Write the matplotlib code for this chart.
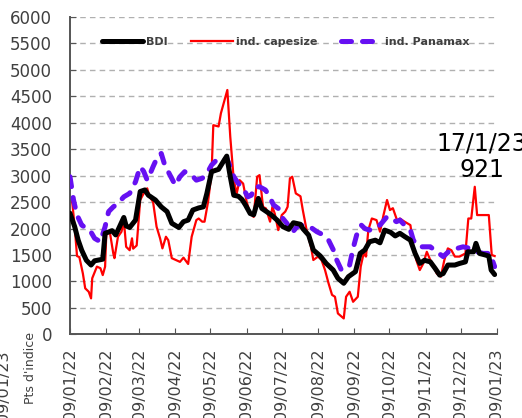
import numpy as np
import matplotlib.pyplot as plt
import matplotlib.dates as mdates

# -----------------------------
# data, x = days after 09/01/2022
# -----------------------------
start = np.datetime64("2022-01-09")

bdi_days = [0, 4, 7, 10, 14, 18, 21, 28, 30, 36, 39, 41, 46, 48, 51, 56, 60, 64, 67,
            73, 78, 83, 87, 93, 97, 101, 105, 110, 114, 117, 121, 127, 131, 134, 137,
            140, 144, 147, 150, 154, 157, 161, 164, 168, 172, 177, 182, 187, 191, 197,
            199, 204, 208, 214, 219, 225, 229, 234, 238, 244, 248, 252, 256, 261, 265,
            269, 274, 278, 282, 286, 291, 295, 299, 303, 308, 312, 316, 319, 323, 329,
            333, 338, 340, 345, 347, 350, 355, 358, 360, 363]
bdi = [2290, 2035, 1780, 1590, 1400, 1310, 1390, 1420, 1910, 1960, 1880, 1970, 2210,
       2050, 2020, 2160, 2700, 2730, 2630, 2540, 2410, 2320, 2100, 2020, 2130, 2160,
       2350, 2390, 2410, 2665, 3075, 3120, 3265, 3370, 2980, 2630, 2610, 2550, 2445,
       2285, 2260, 2570, 2380, 2320, 2260, 2160, 2035, 1985, 2110, 2080, 2000, 1875,
       1595, 1480, 1340, 1215, 1060, 965, 1090, 1185, 1530, 1595, 1750, 1780, 1730,
       1970, 1930, 1860, 1910, 1850, 1780, 1530, 1340, 1400, 1370, 1250, 1120, 1150,
       1310, 1310, 1340, 1370, 1560, 1560, 1720, 1530, 1500, 1480, 1215, 1130]

cape_days = [0, 1.5, 4, 6, 8, 11, 13, 16, 18, 19, 23, 26, 28, 30, 31, 34, 37, 38, 41,
             44, 46, 48, 51, 53, 54, 57, 60, 63, 66, 68, 71, 74, 77, 79, 82, 84, 87,
             91, 94, 97, 101, 104, 108, 110, 113, 115, 118, 121, 122.5, 127, 129,
             132.5, 134.5, 137, 140, 142.5, 145, 148, 151, 154, 157, 160, 162, 165,
             167.5, 171, 173, 175, 178, 181, 184, 186, 188, 190, 193, 197, 199, 202,
             206, 208, 212, 215, 218, 221, 224, 226.5, 229, 234, 236, 239, 242, 246,
             248.5, 251, 253, 255, 258, 262, 265, 268, 271, 273.5, 276, 280, 282, 286,
             291, 293.5, 296, 299, 302, 305, 308, 310.5, 313.5, 317, 320, 323, 326,
             329, 333, 338, 340.5, 343, 346, 348, 352, 358, 360.5, 363]
cape = [2510, 2590, 2035, 1480, 1460, 1150, 870, 805, 680, 1060, 1280, 1250, 1120,
        1280, 1880, 1940, 1530, 1440, 1845, 1940, 2160, 1655, 1590, 1815, 1620, 1680,
        2540, 2665, 2760, 2600, 2505, 2035, 1815, 1625, 1845, 1780, 1440, 1400, 1370,
        1450, 1330, 1845, 2160, 2190, 2130, 2130, 2505, 3045, 3955, 3930, 4180, 4460,
        4620, 3735, 2915, 2665, 2915, 2850, 2505, 2285, 2220, 2980, 3010, 2410, 2380,
        2130, 2410, 2285, 1970, 2255, 2320, 2410, 2950, 2980, 2665, 2610, 2350, 2000,
        1655, 1405, 1470, 1405, 1215, 965, 745, 710, 395, 300, 710, 805, 615, 710,
        1280, 1530, 1470, 1970, 2190, 2160, 1940, 2255, 2540, 2350, 2385, 2130, 2190,
        2130, 2065, 1655, 1405, 1215, 1340, 1560, 1405, 1310, 1150, 1090, 1405, 1625,
        1590, 1470, 1470, 1530, 2190, 2190, 2790, 2255, 2255, 2255, 1500, 1480]

pana_days = [0, 3, 6, 10, 14, 17, 21, 26, 30, 33, 37, 41, 46, 51, 56, 60, 63, 66, 68,
             71, 75.5, 78, 81, 85.5, 90, 94, 98, 104, 108, 113, 117, 121, 125, 130,
             134, 137, 140, 144, 148, 152, 155, 158, 162, 167, 170, 174, 178, 182,
             185.5, 189.5, 194, 199, 205, 211, 216.5, 221, 225, 228, 232, 236.5, 239,
             242, 245, 249, 252, 256, 261, 265, 271, 275, 279, 282, 286, 291, 293.5,
             298, 302, 308, 313.5, 319, 325, 331, 336, 342, 348, 353, 359, 363]
pana = [2980, 2540, 2255, 2065, 2005, 1970, 1815, 1750, 2035, 2320, 2410, 2475, 2600,
        2665, 2885, 3170, 3080, 2915, 3010, 3170, 3390, 3420, 3200, 3010, 2820, 2980,
        3075, 3010, 2915, 2950, 3040, 3200, 3290, 3265, 3330, 3170, 2980, 2850, 2760,
        2600, 2630, 2790, 2790, 2730, 2630, 2445, 2380, 2190, 2095, 1910, 2035, 2065,
        2035, 1940, 1880, 1780, 1600, 1405, 1215, 1245, 1310, 1625, 1875, 2065, 2000,
        1970, 2035, 2065, 2225, 2190, 2130, 2160, 2065, 1970, 1780, 1655, 1655, 1655,
        1560, 1470, 1590, 1625, 1655, 1625, 1560, 1530, 1530, 1280]


def to_dates(days):
    return start + (np.array(days) * 24 * 3600).astype("timedelta64[s]")


tick_labels = ["09/01/22", "09/02/22", "09/03/22", "09/04/22", "09/05/22", "09/06/22",
               "09/07/22", "09/08/22", "09/09/22", "09/10/22", "09/11/22", "09/12/22",
               "09/01/23"]
tick_dates = np.array(["2022-01-09", "2022-02-09", "2022-03-09", "2022-04-09",
                       "2022-05-09", "2022-06-09", "2022-07-09", "2022-08-09",
                       "2022-09-09", "2022-10-09", "2022-11-09", "2022-12-09",
                       "2023-01-09"], dtype="datetime64[D]")

# -----------------------------
# plot
# -----------------------------
fig = plt.figure(figsize=(5.22, 4.18), dpi=100)
ax = fig.add_axes([0.1341, 0.2002, 0.818, 0.7591])

grey = "#404040"

l_cape, = ax.plot(to_dates(cape_days), cape, color="#ff0000", lw=1.6, zorder=2,
                  label="ind. capesize")
l_pana, = ax.plot(to_dates(pana_days), pana, color="#6610f2", lw=3.6, zorder=3,
                  dashes=(2, 2.2), dash_capstyle="round", label="ind. Panamax")
l_bdi, = ax.plot(to_dates(bdi_days), bdi, color="black", lw=3.6, zorder=4,
                 solid_capstyle="round", label="BDI")

ax.set_ylim(0, 6000)
ax.set_yticks(np.arange(0, 6001, 500))
ax.set_xlim(tick_dates[0], tick_dates[-1])
ax.set_xticks(tick_dates)
ax.set_xticklabels(tick_labels, rotation=90)

ax.yaxis.grid(True, color="#b0b0b0", ls=(0, (4, 3)), lw=1)
ax.set_axisbelow(True)

for s in ["top", "right"]:
    ax.spines[s].set_visible(False)
for s in ["left", "bottom"]:
    ax.spines[s].set_color("#555555")
    ax.spines[s].set_linewidth(1.4)

ax.tick_params(axis="y", direction="in", length=4, pad=13, labelsize=12,
               labelcolor=grey, color="#555555")
ax.tick_params(axis="x", direction="in", length=4, pad=10, labelsize=11.5,
               labelcolor=grey, color="#555555")

leg = ax.legend(handles=[l_bdi, l_cape, l_pana], loc="center left",
                bbox_to_anchor=(0.062, 0.921), ncol=3, frameon=False,
                fontsize=8, handlelength=3.7, handletextpad=0.3,
                columnspacing=2.1, borderpad=0)
for t in leg.get_texts():
    t.set_color(grey)
    t.set_fontweight("bold")

fig.text(482 / 522, 1 - 157 / 418, "17/1/23\n921", fontsize=17,
         ha="center", va="center", linespacing=1.15)

fig.text(31 / 522, 1 - 368 / 418, "Pts d'indice", rotation=90, fontsize=9,
         color=grey, ha="center", va="center")
fig.text(4 / 522, 1 - 350 / 418, "09/01/23", rotation=90, fontsize=11.5,
         color=grey, ha="center", va="top")

fig.savefig("out.png", dpi=100)
